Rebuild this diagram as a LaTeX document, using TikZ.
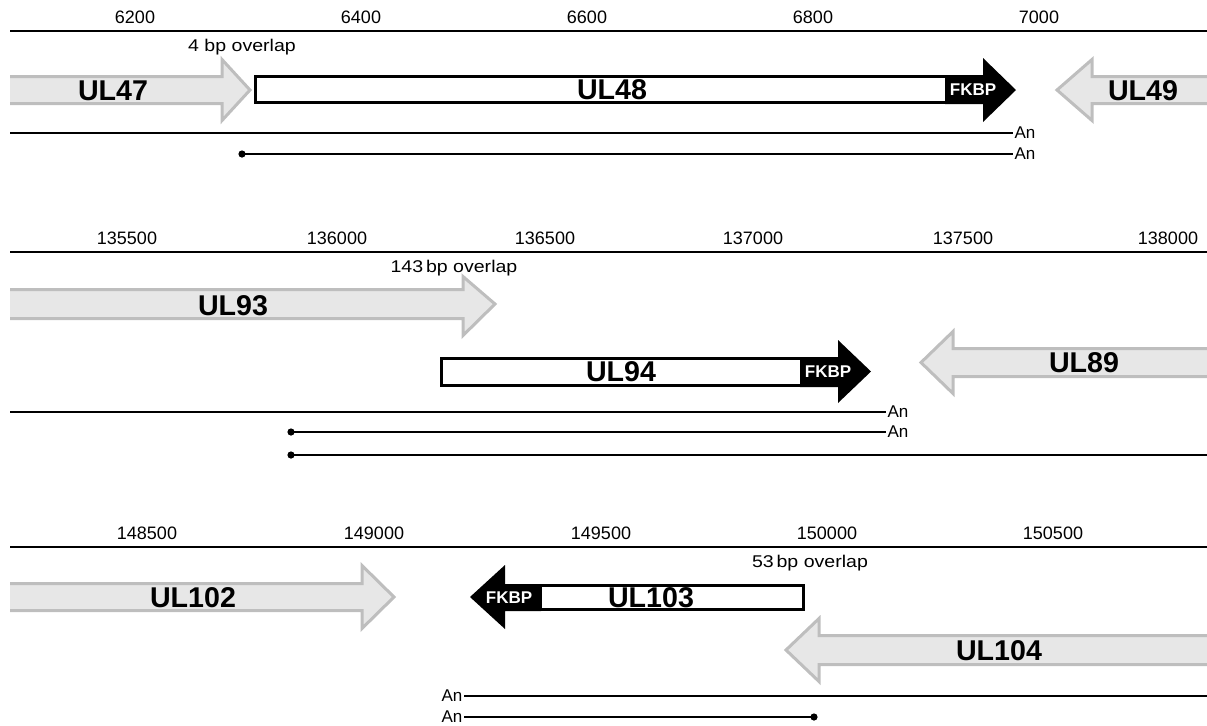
\documentclass[tikz,border=0pt]{standalone}
\usepackage{fontspec}
\setmainfont{Liberation Sans}
\setsansfont{Liberation Sans}
\newfontfamily\largefont[FakeStretch=1.15]{Liberation Sans}
\usetikzlibrary{positioning}
\definecolor{voisinfond}{RGB}{231,231,231}
\definecolor{voisintrait}{RGB}{190,190,190}

\begin{document}
\begin{tikzpicture}[x=0.5pt, y=-0.5pt, font=\fontsize{9}{10}\selectfont,
  axe/.style={line width=1.1pt},
  graduation/.style={font=\fontsize{9}{10}\selectfont, inner sep=0pt},
  chevauche/.style={font=\largefont\fontsize{8.5}{10}\selectfont, inner sep=0pt},
  voisin/.style={fill=voisinfond, draw=voisintrait, line width=1.5pt, line join=miter},
  orf/.style={draw=black, fill=white, line width=1.5pt},
  etiquette/.style={fill=black},
  nomgene/.style={font=\bfseries\fontsize{14.3}{17}\selectfont, inner sep=0pt},
  nomtag/.style={font=\bfseries\fontsize{8.5}{10}\selectfont, text=white, inner sep=0pt},
  polya/.style={font=\fontsize{8.5}{10}\selectfont, inner sep=0.6pt},
  transcrit/.style={line width=1pt},
  debut/.style={circle, fill=black, inner sep=0pt, minimum size=3.6pt}]
\useasboundingbox (0,0) rectangle (1207,725);

% --- UL48 ---
\coordinate (axe1g) at (10,31); \coordinate (axe1d) at (1207,31);
\draw[axe] (axe1g) -- (axe1d);
\foreach \x/\t in {135/6200, 361/6400, 587/6600, 813/6800, 1039/7000}
  \node[graduation] (g\t) at (\x,17) {\t};
\node[chevauche] (ch1) at (242,47) {4 bp overlap};
\filldraw[voisin] (10,76.5) -- (222,76.5) -- (222,59.5) -- (250,90) -- (222,120.5) -- (222,103.5) -- (10,103.5);
\node[nomgene] (ul47) at (113,90.5) {UL47};
\draw[orf] (255.5,76.5) rectangle (946,102.5);
\fill[etiquette] (945,75) -- (983,75) -- (983,58) -- (1016,90) -- (983,122) -- (983,104) -- (945,104) -- cycle;
\node[nomgene] (ul48) at (612,90) {UL48};
\node[nomtag] (fkbp1) at (973,90) {FKBP};
\filldraw[voisin] (1212,76.5) -- (1092,76.5) -- (1092,59.5) -- (1057,90) -- (1092,120.5) -- (1092,103.5) -- (1212,103.5);
\node[nomgene] (ul49) at (1143,90.5) {UL49};
\coordinate (tr1) at (10,133);
\node[polya, anchor=west] (an1) at (1013,133) {An};
\draw[transcrit] (tr1) -- (an1.west);
\node[debut] (tr2) at (242,154) {};
\node[polya, anchor=west] (an2) at (1013,154) {An};
\draw[transcrit] (tr2.center) -- (an2.west);

% --- UL94 ---
\coordinate (axe2g) at (10,252); \coordinate (axe2d) at (1207,252);
\draw[axe] (axe2g) -- (axe2d);
\foreach \x/\t in {127/135500, 337/136000, 545/136500, 753/137000, 963/137500, 1168/138000}
  \node[graduation] (g\t) at (\x,238) {\t};
\node[chevauche] (ch2) at (454,268) {143\,bp overlap};
\filldraw[voisin] (10,289.5) -- (463,289.5) -- (463,276.5) -- (495,304) -- (463,335.5) -- (463,318.5) -- (10,318.5);
\node[nomgene] (ul93) at (233,305.5) {UL93};
\draw[orf] (441.5,358.5) rectangle (801,385.5);
\fill[etiquette] (800,357) -- (838,357) -- (838,340) -- (871,371.5) -- (838,403) -- (838,387) -- (800,387) -- cycle;
\node[nomgene] (ul94) at (621,372) {UL94};
\node[nomtag] (fkbp2) at (828,372) {FKBP};
\filldraw[voisin] (1212,348.5) -- (953,348.5) -- (953,331.5) -- (921,362.5) -- (953,393.5) -- (953,376.5) -- (1212,376.5);
\node[nomgene] (ul89) at (1084,362.5) {UL89};
\coordinate (tr3) at (10,412);
\node[polya, anchor=west] (an3) at (886,412) {An};
\draw[transcrit] (tr3) -- (an3.west);
\node[debut] (tr4) at (291,432) {};
\node[polya, anchor=west] (an4) at (886,432) {An};
\draw[transcrit] (tr4.center) -- (an4.west);
\node[debut] (tr5) at (291,455) {};
\coordinate (fin5) at (1207,455);
\draw[transcrit] (tr5.center) -- (fin5);

% --- UL103 ---
\coordinate (axe3g) at (10,547); \coordinate (axe3d) at (1207,547);
\draw[axe] (axe3g) -- (axe3d);
\foreach \x/\t in {147/148500, 374/149000, 601/149500, 827/150000, 1053/150500}
  \node[graduation] (g\t) at (\x,533) {\t};
\node[chevauche] (ch3) at (810,563) {53\,bp overlap};
\filldraw[voisin] (10,583.5) -- (362,583.5) -- (362,565.5) -- (394,597) -- (362,628.5) -- (362,610.5) -- (10,610.5);
\node[nomgene] (ul102) at (193,597.5) {UL102};
\draw[orf] (540,585.5) rectangle (803.5,609.5);
\fill[etiquette] (541,584) -- (505,584) -- (505,565) -- (470,597) -- (505,629) -- (505,611) -- (541,611) -- cycle;
\node[nomgene] (ul103) at (651,597.5) {UL103};
\node[nomtag] (fkbp3) at (509,597.5) {FKBP};
\filldraw[voisin] (1212,635.5) -- (819,635.5) -- (819,618.5) -- (786,650) -- (819,681.5) -- (819,664.5) -- (1212,664.5);
\node[nomgene] (ul104) at (999,650.5) {UL104};
\node[polya, anchor=east] (an5) at (464,696) {An};
\coordinate (fin6) at (1207,696);
\draw[transcrit] (an5.east) -- (fin6);
\node[polya, anchor=east] (an6) at (464,717) {An};
\node[debut] (tr7) at (814,717) {};
\draw[transcrit] (an6.east) -- (tr7.center);
\end{tikzpicture}
\end{document}
